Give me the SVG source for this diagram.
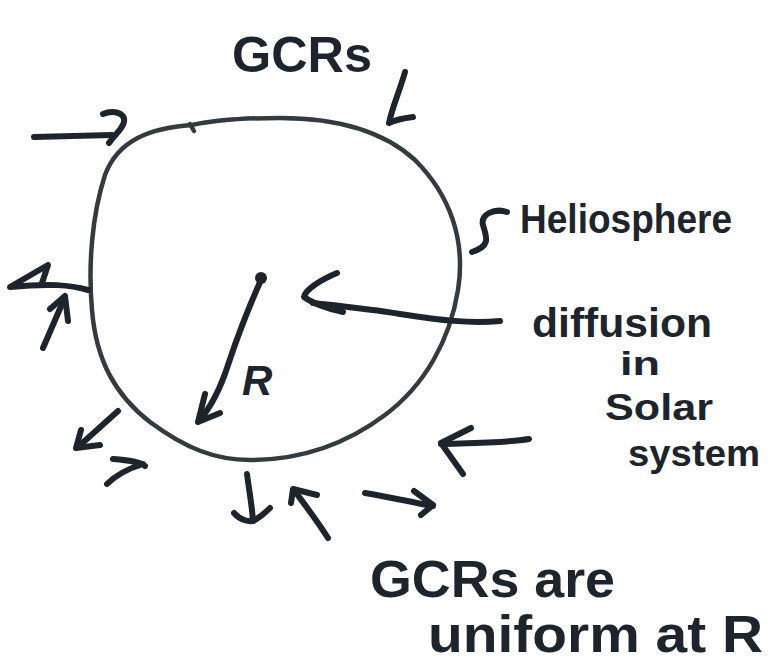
<svg xmlns="http://www.w3.org/2000/svg" width="781" height="669" viewBox="0 0 781 669">
<style>
.ink{fill:none;stroke:#1d242c;stroke-width:6;stroke-linecap:round;stroke-linejoin:round}
.rim{fill:none;stroke:#353a3f;stroke-width:4.5;stroke-linecap:round}
.hw{font-family:"Liberation Sans","DejaVu Sans",sans-serif;font-weight:bold;fill:#1d242c}
</style>
<rect width="781" height="669" fill="#ffffff"/>
<g id="heliosphere">
<path class="rim" d="M192,125 C150,128 118,140 105,175 C92,215 88,265 92,310 C96,360 115,395 150,422 C185,448 215,460 250,460 C300,460 345,445 385,415 C425,385 450,340 458,290 C466,240 450,195 415,160 C380,128 330,118 280,118 C250,118 215,120 192,125"/>
<path class="rim" d="M190,124 L194,131"/>
</g>
<g id="sun">
<circle cx="261" cy="278" r="6" fill="#1d242c"/>
</g>
<g id="radius-label">
<text class="hw" x="242" y="395" font-size="42" font-style="italic">R</text>
</g>
<g id="label-gcrs-top">
<text class="hw" x="232" y="72" font-size="50" textLength="140" lengthAdjust="spacingAndGlyphs">GCRs</text>
</g>
<g id="label-heliosphere">
<text class="hw" x="520" y="233" font-size="40" textLength="212" lengthAdjust="spacingAndGlyphs">Heliosphere</text>
</g>
<g id="label-diffusion">
<text class="hw" x="532" y="337" font-size="40" textLength="180" lengthAdjust="spacingAndGlyphs">diffusion</text>
<text class="hw" x="620" y="375" font-size="34" textLength="40" lengthAdjust="spacingAndGlyphs">in</text>
<text class="hw" x="605" y="420" font-size="36" textLength="108" lengthAdjust="spacingAndGlyphs">Solar</text>
<text class="hw" x="628" y="466" font-size="36" textLength="132" lengthAdjust="spacingAndGlyphs">system</text>
</g>
<g id="label-uniform">
<text class="hw" x="370" y="597" font-size="52" textLength="245" lengthAdjust="spacingAndGlyphs">GCRs are</text>
<text class="hw" x="428" y="652" font-size="52" textLength="335" lengthAdjust="spacingAndGlyphs">uniform at R</text>
</g>
<g id="connectors">
<path class="ink" d="M261,280 C252,300 238,335 228,365 C220,390 210,408 199,421"/>
<path class="ink" d="M205,394 L198,422 L220,413"/>
<path class="ink" d="M500,321 C470,324 440,320 400,314 C370,309 340,306 313,303"/>
<path class="ink" d="M337,273 C320,280 305,290 304,297 C315,305 330,309 343,312"/>
<path class="ink" d="M507,212 C495,208 480,214 483,225 C486,236 492,246 472,252"/>
<path class="ink" d="M405,72 C400,90 392,108 389,123 C395,120 405,118 413,117"/>
<path class="ink" d="M34,137 L112,135"/>
<path class="ink" d="M103,114 C112,110 126,112 124,122 C122,130 115,134 109,143"/>
<path class="ink" d="M88,290 C70,285 50,283 10,287 L48,265 L42,283"/>
<path class="ink" d="M43,348 L65,297"/>
<path class="ink" d="M50,309 L65,296 L68,321"/>
<path class="ink" d="M118,411 L78,447"/>
<path class="ink" d="M81,430 L76,448 L100,445"/>
<path class="ink" d="M113,459 C125,460 138,461 145,466 M143,464 C130,468 116,475 107,484"/>
<path class="ink" d="M247,474 C249,490 252,505 253,521"/>
<path class="ink" d="M234,513 C240,520 250,523 255,520 C262,516 266,512 270,508"/>
<path class="ink" d="M328,538 C318,522 305,505 294,490"/>
<path class="ink" d="M291,503 L293,489 L317,495"/>
<path class="ink" d="M365,493 C390,497 410,502 433,506"/>
<path class="ink" d="M414,491 L433,505 L421,515"/>
<path class="ink" d="M529,439 C505,443 470,443 441,444"/>
<path class="ink" d="M471,428 L441,443 L463,474"/>
</g>
</svg>
